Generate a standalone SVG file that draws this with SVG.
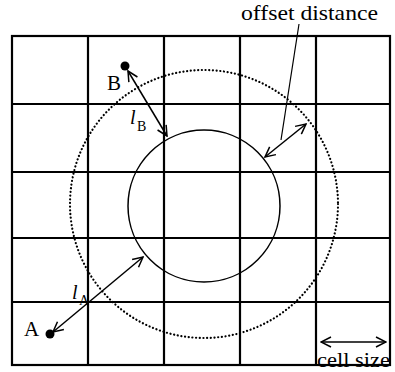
<svg xmlns="http://www.w3.org/2000/svg" width="395" height="372" viewBox="0 0 395 372">
<style>
.grid{stroke:#000;stroke-width:2.2;fill:none}
.circ{stroke:#000;stroke-width:1.5;fill:none}
.dot{stroke:#000;stroke-width:2.2;fill:none;stroke-dasharray:0.1 3.6;stroke-linecap:round}
.arr{stroke:#000;stroke-width:1.5;fill:none;marker-start:url(#ah);marker-end:url(#ah)}
.lead{stroke:#000;stroke-width:1.2;fill:none}
text{font-family:"Liberation Serif","Times New Roman",serif;fill:#000}
</style>
<defs>
<marker id="ah" viewBox="0 0 12 12" refX="11" refY="6" markerWidth="12" markerHeight="12" markerUnits="userSpaceOnUse" orient="auto-start-reverse">
<path d="M1,1 L11,6 L1,11" fill="none" stroke="#000" stroke-width="1.5"/>
</marker>
</defs>
<g id="grid">
<rect class="grid" x="12" y="36" width="378" height="329"/>
<path class="grid" d="M88,36V365M164,36V365M240,36V365M316,36V365M12,104H390M12,172H390M12,238H390M12,302H390"/>
</g>
<g id="inner-circle"><circle class="circ" cx="204" cy="206" r="76"/></g>
<g id="offset-circle"><circle class="dot" cx="204" cy="204" r="134"/></g>
<g id="pointB"><circle cx="125" cy="66" r="4.5" fill="#000"/><text x="107" y="90" font-size="21">B</text></g>
<g id="pointA"><circle cx="50" cy="334" r="4.5" fill="#000"/><text x="24" y="336" font-size="21">A</text></g>
<g id="labels">
<text x="241" y="20" font-size="21" textLength="137" lengthAdjust="spacingAndGlyphs">offset distance</text>
<text x="130" y="124" font-size="20" font-style="italic">l</text><text x="137" y="131" font-size="14">B</text>
<text x="72" y="299" font-size="20" font-style="italic">l</text><text x="79" y="305" font-size="14">A</text>
<text x="317" y="367" font-size="20" textLength="73" lengthAdjust="spacingAndGlyphs">cell size</text>
</g>
<g id="connectors">
<line class="arr" x1="128" y1="71" x2="167" y2="136"/>
<line class="arr" x1="53" y1="332" x2="143" y2="257"/>
<line class="arr" x1="265" y1="157" x2="306" y2="124"/>
<line class="arr" x1="321" y1="342" x2="386" y2="342"/>
<line class="lead" x1="299" y1="24" x2="281" y2="140"/>
</g>
</svg>
